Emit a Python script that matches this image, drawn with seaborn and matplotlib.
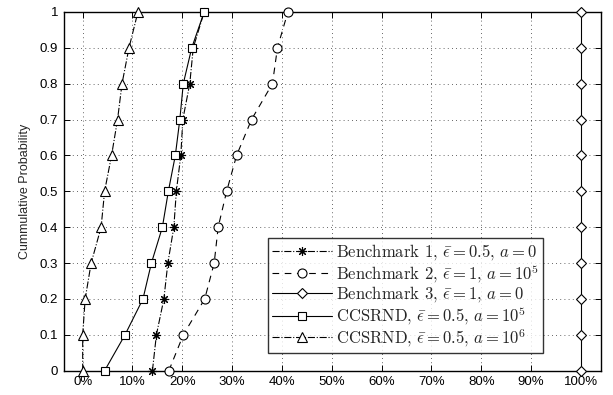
import numpy as np
import pandas as pd
import seaborn as sns
import matplotlib.pyplot as plt

# CDF levels (same for every curve)
prob = [0.0, 0.1, 0.2, 0.3, 0.4, 0.5, 0.6, 0.7, 0.8, 0.9, 1.0]

# x values in percent
bench1 = [14.0, 14.8, 16.3, 17.1, 18.3, 18.8, 19.7, 20.1, 21.5, 22.2, 24.4]
bench2 = [17.3, 20.2, 24.5, 26.4, 27.2, 28.9, 30.9, 33.9, 38.1, 39.1, 41.2]
bench3 = [100.0] * 11
ccs_1e5 = [4.4, 8.5, 12.1, 13.8, 16.0, 17.2, 18.6, 19.5, 20.2, 21.9, 24.4]
ccs_1e6 = [0.0, 0.0, 0.5, 1.7, 3.7, 4.4, 5.8, 7.0, 7.9, 9.3, 11.1]

labels = [r'Benchmark 1, $\bar{\epsilon}=0.5$, $a=0$',
          r'Benchmark 2, $\bar{\epsilon}=1$, $a=10^5$',
          r'Benchmark 3, $\bar{\epsilon}=1$, $a=0$',
          r'CCSRND, $\bar{\epsilon}=0.5$, $a=10^5$',
          r'CCSRND, $\bar{\epsilon}=0.5$, $a=10^6$']
xticks = list(range(0, 101, 10))
yticks = [0, 0.1, 0.2, 0.3, 0.4, 0.5, 0.6, 0.7, 0.8, 0.9, 1]
ytick_labels = ['0', '0.1', '0.2', '0.3', '0.4', '0.5', '0.6', '0.7', '0.8', '0.9', '1']

sns.set_theme(style='white')
plt.rcParams['font.family'] = ['Liberation Sans', 'DejaVu Sans']
plt.rcParams['mathtext.fontset'] = 'cm'

fig = plt.figure(figsize=(6.13, 3.95), dpi=100)
ax = fig.add_axes([0.104, 0.0615, 0.876, 0.9085])

styles = [
    dict(ls='-.', marker=(8, 2, 0), ms=6.5),
    dict(ls=(0, (6, 5)), marker='o', ms=6.5),
    dict(ls='-', marker='D', ms=5.5),
    dict(ls='-', marker='s', ms=5.5),
    dict(ls='-.', marker='^', ms=7),
]
series = [bench1, bench2, bench3, ccs_1e5, ccs_1e6]

for vals, lab, st in zip(series, labels, styles):
    df = pd.DataFrame({'x': vals, 'y': prob})
    sns.lineplot(data=df, x='x', y='y', sort=False, estimator=None, ax=ax,
                 color='black', linewidth=0.8, linestyle=st['ls'],
                 marker=st['marker'], markersize=st['ms'],
                 markerfacecolor='white', markeredgecolor='black',
                 markeredgewidth=0.8, label=lab, clip_on=False, zorder=3)

ax.set_xlim(-3.8, 104)
ax.set_ylim(0, 1)
ax.set_xticks(xticks)
ax.set_xticklabels([f'{t}%' for t in xticks])
ax.set_yticks(yticks)
ax.set_yticklabels(ytick_labels)
ax.set_xlabel('')
ax.set_ylabel('Cummulative Probability', fontsize=9, labelpad=6)
ax.tick_params(direction='in', length=4, width=0.7, labelsize=9.5, colors='black',
               top=True, right=True, bottom=True, left=True, pad=4)
ax.grid(True, linestyle=(0, (1, 4)), color='black', linewidth=0.6, alpha=0.8)
for sp in ax.spines.values():
    sp.set_color('black')
    sp.set_linewidth(1.0)

leg = ax.legend(loc='lower right', bbox_to_anchor=(0.892, 0.05), borderaxespad=0,
                prop={'family': 'cmr10', 'size': 12}, handlelength=3.6,
                fancybox=False, frameon=True, labelspacing=0.0, handletextpad=0.2,
                borderpad=0.25)
leg.get_frame().set_edgecolor('black')
leg.get_frame().set_linewidth(1.0)

fig.savefig('out.png', dpi=100)
